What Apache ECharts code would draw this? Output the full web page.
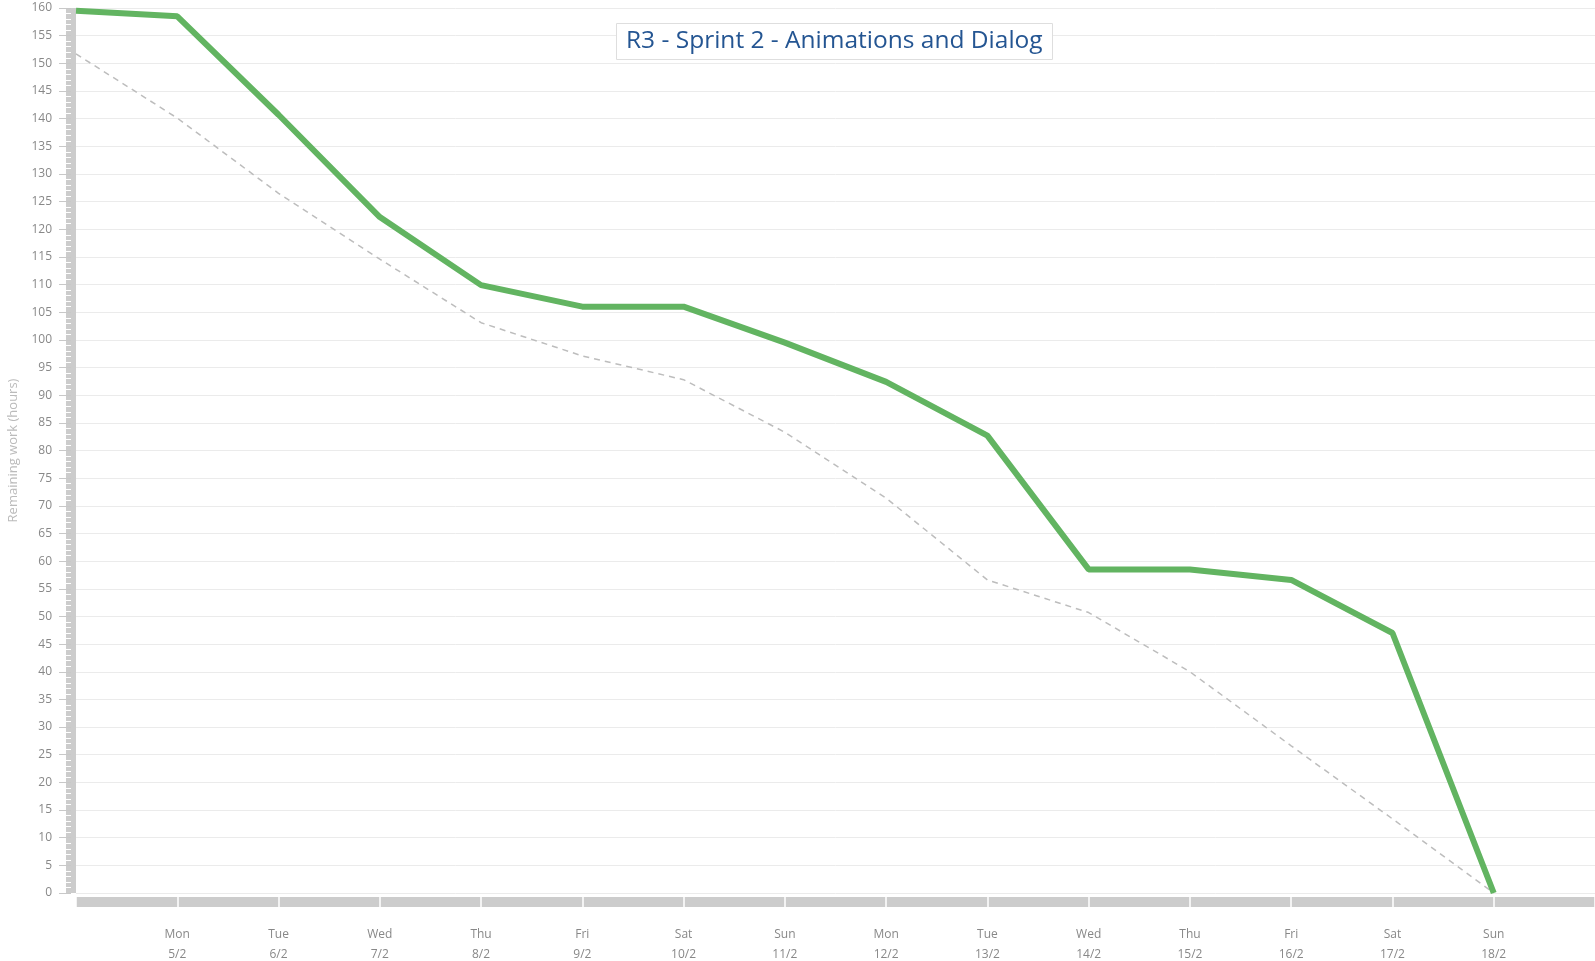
<!DOCTYPE html>
<html>
    <head>
        <meta charset="utf-8">
        <script src="https://cdn.jsdelivr.net/npm/echarts@6/dist/echarts.min.js"></script>
        <style>
            html, body { margin: 0; padding: 0; background: #fff; }
            #main { width: 1595px; height: 961px; }
        </style>
    </head>
    <body>
        <div id="main"></div>
        <script>
            var days = ['', 'Mon\n5/2', 'Tue\n6/2', 'Wed\n7/2', 'Thu\n8/2', 'Fri\n9/2', 'Sat\n10/2', 'Sun\n11/2',
                'Mon\n12/2', 'Tue\n13/2', 'Wed\n14/2', 'Thu\n15/2', 'Fri\n16/2', 'Sat\n17/2', 'Sun\n18/2', ''];
            var remaining = [159.5, 158.5, 140.7, 122.2, 109.9, 106, 106, 99.5, 92.4, 82.7, 58.5, 58.5, 56.6, 47, 0, null];
            var ideal = [151.7, 140.1, 126.5, 114.6, 103.1, 97.1, 92.8, 83.3, 71.4, 56.6, 50.7, 40, 26.6, 13.4, 0, null];

            var chart = echarts.init(document.getElementById('main'));

            var font = '"Open Sans", sans-serif';
            chart.setOption({
                animation: false,
                title: {
                    text: 'R3 - Sprint 2 - Animations and Dialog',
                    left: 616,
                    top: 23,
                    padding: [6, 10, 6, 10],
                    borderColor: '#dedede',
                    borderWidth: 1,
                    backgroundColor: '#fff',
                    textStyle: {
                        fontFamily: font,
                        fontSize: 24.5,
                        fontWeight: 500,
                        color: '#245592'
                    }
                },
                grid: {
                    left: 76,
                    right: 0,
                    top: 8,
                    bottom: 68,
                    outerBoundsMode: 'none'
                },
                xAxis: [{
                    type: 'category',
                    data: days,
                    boundaryGap: false,
                    offset: 9,
                    axisLine: { onZero: false, lineStyle: { color: '#cccccc', width: 10, cap: 'butt' } },
                    axisTick: { show: true, inside: true, length: 5, lineStyle: { color: '#fff', width: 1.5 } },
                    axisLabel: {
                        interval: 0,
                        margin: 23,
                        fontFamily: font,
                        fontSize: 12,
                        lineHeight: 20,
                        color: '#888'
                    },
                    splitLine: { show: false }
                }, {
                    type: 'category',
                    data: days,
                    boundaryGap: false,
                    position: 'bottom',
                    offset: 9,
                    axisLine: { show: false, onZero: false },
                    axisTick: { show: true, inside: false, length: 5, lineStyle: { color: '#fff', width: 1.5 } },
                    axisLabel: { show: false },
                    splitLine: { show: false }
                }],
                yAxis: [{
                    type: 'value',
                    min: 0,
                    max: 160,
                    interval: 5,
                    offset: 5,
                    name: 'Remaining work (hours)',
                    nameLocation: 'middle',
                    nameGap: 51,
                    nameTextStyle: { fontFamily: font, fontSize: 13, color: '#bbbbbb' },
                    axisLine: { show: true, onZero: false, lineStyle: { color: '#cccccc', width: 10, cap: 'butt' } },
                    axisTick: { show: true, length: 12, lineStyle: { color: '#c8c8c8' } },
                    minorTick: { show: true, splitNumber: 5, length: 5, lineStyle: { color: '#fff', width: 1 } },
                    axisLabel: { margin: 19, fontFamily: font, fontSize: 12, color: '#888' },
                    splitLine: { show: true, lineStyle: { color: '#ebebeb', width: 1 } }
                }, {
                    type: 'value',
                    min: 0,
                    max: 160,
                    interval: 5,
                    offset: 5,
                    position: 'left',
                    axisLine: { show: false, onZero: false },
                    axisTick: { show: false },
                    minorTick: { show: true, splitNumber: 5, length: 5, lineStyle: { color: '#fff', width: 1 } },
                    axisLabel: { show: false },
                    splitLine: { show: false }
                }],
                series: [{
                    name: 'Ideal',
                    type: 'line',
                    data: ideal,
                    symbol: 'none',
                    lineStyle: { color: '#bdbdbd', width: 1.5, type: [6, 5] },
                    z: 2
                }, {
                    name: 'Remaining',
                    type: 'line',
                    data: remaining,
                    symbol: 'none',
                    lineStyle: { color: '#62b461', width: 6 },
                    z: 3
                }]
            });
        </script>
    </body>
</html>
